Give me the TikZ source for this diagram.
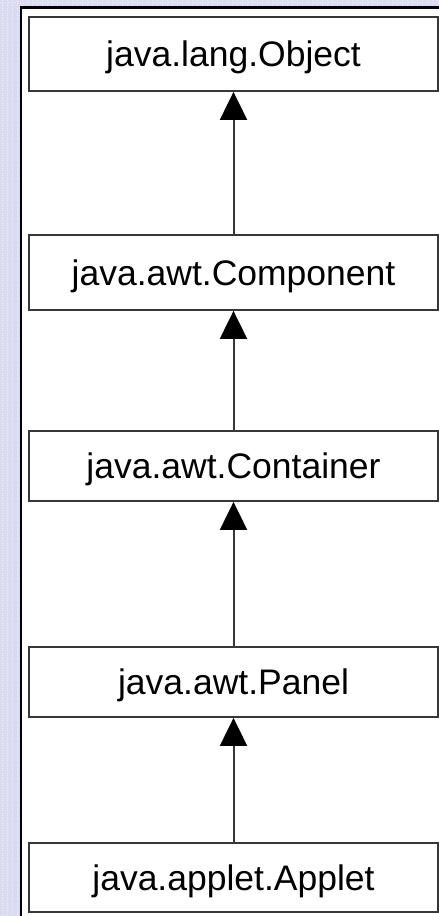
\documentclass[tikz,border=0pt]{standalone}
\usepackage{fontspec}
\setmainfont{Liberation Sans}
\usetikzlibrary{arrows.meta}
\definecolor{lavender}{RGB}{218,218,240}
\definecolor{lavlight}{RGB}{236,236,250}
\definecolor{boxline}{RGB}{55,55,55}
\tikzset{
  classbox/.style={draw=boxline, line width=1.8pt, fill=white,
    minimum width=409pt, inner sep=0pt,
    font=\fontsize{35.5}{40}\selectfont, text height=25pt, text depth=0pt},
  inherit/.style={draw=boxline, line width=2pt,
    -{Triangle[width=27pt,length=28pt,fill=black,color=black]}}
}
\begin{document}
\begin{tikzpicture}[x=1pt,y=-1pt]
  \useasboundingbox (0,0) rectangle (439,916);
  % lavender page background with its fine dotted grid
  \fill[lavender] (0,0) rectangle (439,916);
  \foreach \gx in {2.5,7.5,...,437.5}
    \draw[lavlight, line width=1.2pt, dash pattern=on 1.2pt off 1.3pt] (\gx,0) -- (\gx,916);
  \draw[lavlight, line width=1.2pt, dash pattern=on 1.2pt off 1.3pt] (0,2.5) -- (439,2.5);
  % white drawing panel with dark left and top edges
  \fill[white] (20,7) rectangle (445,925);
  \draw[black, line width=2.5pt] (21,925) -- (21,7.5) -- (445,7.5);

  % class boxes
  \node[classbox, minimum height=74pt] (object)    at (233.5,54)   {java.lang.Object};
  \node[classbox, minimum height=75pt] (component) at (233.5,272.5) {java.awt.Component};
  \node[classbox, minimum height=70pt] (container) at (233.5,466)   {java.awt.Container};
  \node[classbox, minimum height=70pt] (panel)     at (233.5,682)   {java.awt.Panel};
  \node[classbox, minimum height=69pt] (applet)    at (233.5,877.5) {java.applet.Applet};

  % inheritance arrows
  \draw[inherit] (component.north) -- (object.south);
  \draw[inherit] (container.north) -- (component.south);
  \draw[inherit] (panel.north)     -- (container.south);
  \draw[inherit] (applet.north)    -- (panel.south);
\end{tikzpicture}
\end{document}
